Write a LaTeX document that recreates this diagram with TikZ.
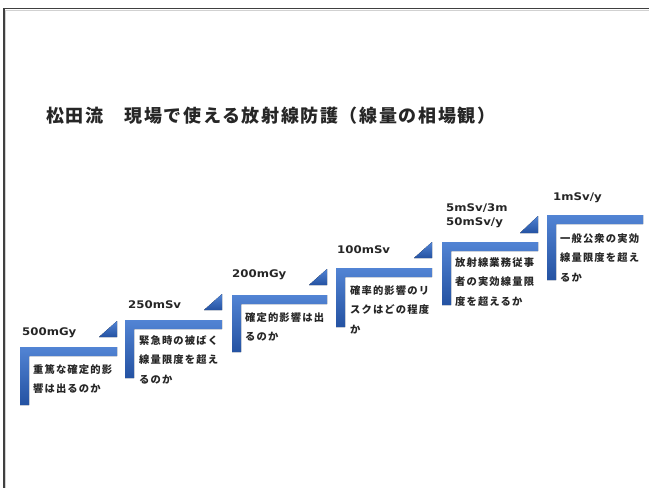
\documentclass[tikz,border=0pt]{standalone}
\usepackage{fontspec}
\newfontfamily\jptitle{Noto Sans CJK JP}[LetterSpace=9]
\newfontfamily\jpbody{Noto Sans CJK JP}[LetterSpace=11]
\newfontfamily\latlab{DejaVu Sans}[FakeStretch=1.12]
\definecolor{txt}{HTML}{262626}
\definecolor{blueA}{RGB}{82,132,212}
\definecolor{blueB}{RGB}{36,82,162}
\definecolor{frameC}{HTML}{404040}
\begin{document}
\begin{tikzpicture}[x=1pt,y=-1pt,
  stairs/.style={top color=blueA, bottom color=blueB, draw=none},
  lab/.style={anchor=west, inner sep=0pt, font=\latlab\bfseries\fontsize{10.5}{12}\selectfont, text=txt},
  body/.style={anchor=north west, inner sep=0pt, align=left, font=\jpbody\bfseries\fontsize{10.3}{19.5}\selectfont, text=txt},
  ttl/.style={anchor=west, inner sep=0pt, font=\jptitle\bfseries\fontsize{18}{20}\selectfont, text=txt}
]
\useasboundingbox[fill=white] (0,0) rectangle (649,488);
% frame
\draw[black!18, line width=1pt] (5.5,10.3) -- (649,10.3);
\draw[black!18, line width=1pt] (5.8,10) -- (5.8,488);
\draw[frameC, line width=1.5pt] (3,8.7) -- (649,8.7);
\draw[frameC, line width=1.5pt] (4.2,8) -- (4.2,488);
% title
\node[ttl] (title) at (46,116) {松田流　現場で使える放射線防護（線量の相場観）};
% step 1
\fill[stairs] (20,347) -- (117,347) -- (117,356) -- (29,356) -- (29,405) -- (20,405) -- cycle;
\fill[stairs] (99,337) -- (117,321) -- (117,337) -- cycle;
\node[lab] (l1) at (22,333) {500mGy};
\node[body] (t1) at (33,364) {重篤な確定的影\\響は出るのか};
% step 2
\fill[stairs] (125,320) -- (222,320) -- (222,329) -- (134,329) -- (134,378) -- (125,378) -- cycle;
\fill[stairs] (204,310) -- (222,294) -- (222,310) -- cycle;
\node[lab] (l2) at (128,305) {250mSv};
\node[body] (t2) at (139,335) {緊急時の被ばく\\線量限度を超え\\るのか};
% step 3
\fill[stairs] (232,295) -- (327,295) -- (327,304) -- (241,304) -- (241,352) -- (232,352) -- cycle;
\fill[stairs] (309,285) -- (327,269) -- (327,285) -- cycle;
\node[lab] (l3) at (232,275) {200mGy};
\node[body] (t3) at (245,312) {確定的影響は出\\るのか};
% step 4
\fill[stairs] (336,268) -- (432,268) -- (432,277) -- (345,277) -- (345,327) -- (336,327) -- cycle;
\fill[stairs] (414,258) -- (432,242) -- (432,258) -- cycle;
\node[lab] (l4) at (337,250) {100mSv};
\node[body] (t4) at (350,285) {確率的影響のリ\\スクはどの程度\\か};
% step 5
\fill[stairs] (442,242) -- (538,242) -- (538,251) -- (451,251) -- (451,305) -- (442,305) -- cycle;
\fill[stairs] (520,233) -- (538,216) -- (538,233) -- cycle;
\node[lab] (l5a) at (446,208) {5mSv/3m};
\node[lab] (l5b) at (446,223) {50mSv/y};
\node[body] (t5) at (455,257) {放射線業務従事\\者の実効線量限\\度を超えるか};
% step 6
\fill[stairs] (547,215) -- (643,215) -- (643,224) -- (556,224) -- (556,280) -- (547,280) -- cycle;
\node[lab] (l6) at (553,198) {1mSv/y};
\node[body] (t6) at (560,233) {一般公衆の実効\\線量限度を超え\\るか};
\end{tikzpicture}
\end{document}
